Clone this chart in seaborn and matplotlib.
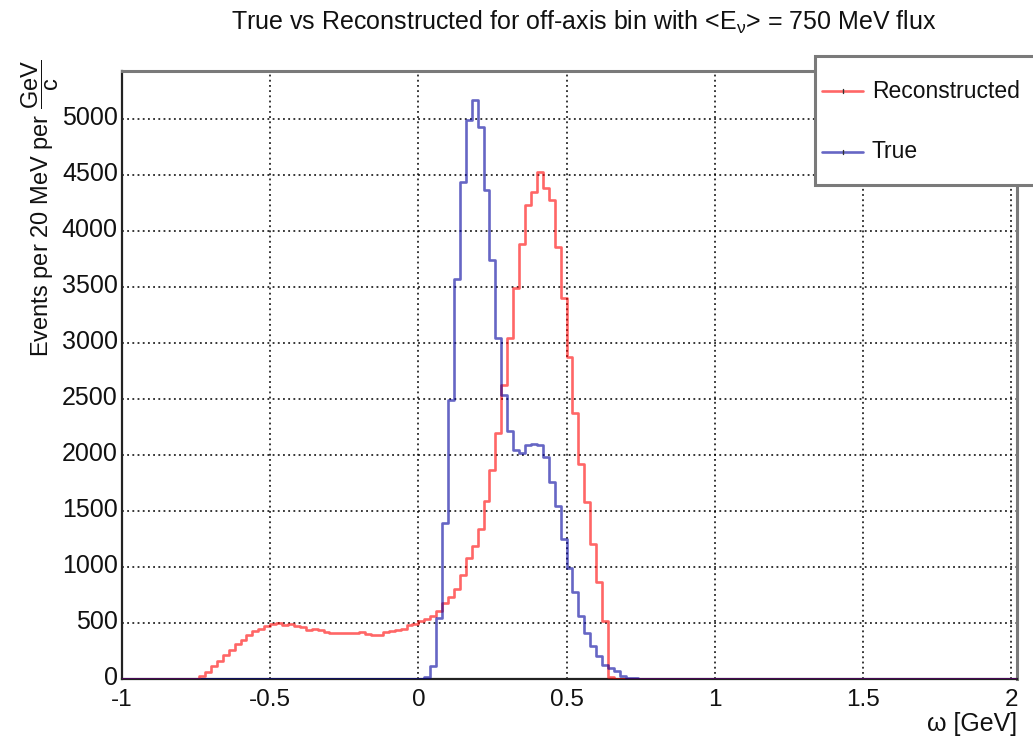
import numpy as np
import pandas as pd
import matplotlib
matplotlib.use("Agg")
import matplotlib.pyplot as plt
import matplotlib.transforms as mtransforms
from matplotlib.lines import Line2D
from matplotlib.patches import Rectangle
import seaborn as sns

# Binning: 20 MeV bins in omega
bin_lo, bin_hi, bin_w = -1.0, 2.02, 0.02
n_bins = 151

# Reconstructed omega, events per bin, first filled bin index 13 (omega = -0.74 GeV)
reco_first_bin = 13
reco_counts = [
    25, 65, 115, 165, 215, 260, 310, 350, 395, 425, 445, 470, 495, 500,
    485, 490, 475, 465, 440, 445, 435, 420, 412, 410, 410, 410, 410, 420,
    405, 392, 395, 420, 430, 435, 448, 478, 495, 515, 540, 565, 610, 680,
    730, 800, 925, 1080, 1185, 1335, 1585, 1868, 2198, 2628, 3049, 3490,
    3880, 4235, 4352, 4531, 4383, 4275, 3859, 3403, 2879, 2373, 1923,
    1584, 1208, 869, 515, 22, 4,
]

# True omega, events per bin, first filled bin index 51 (omega = 0.02 GeV)
true_first_bin = 51
true_counts = [
    15, 120, 545, 1390, 2490, 3570, 4435, 4990, 5170, 4930, 4365, 3743,
    3046, 2540, 2218, 2048, 2015, 2088, 2100, 2087, 1979, 1763, 1547, 1254,
    992, 777, 561, 407, 299, 206, 129, 99, 68, 31, 12, 5,
]

x_ticks = [-1, -0.5, 0, 0.5, 1, 1.5, 2]
x_tick_labels = ["-1", "-0.5", "0", "0.5", "1", "1.5", "2"]
y_ticks = list(range(0, 5001, 500))
y_tick_labels = [str(v) for v in y_ticks]

title = r"True vs Reconstructed for off-axis bin with <E$_{\mathrm{\nu}}$> = 750 MeV flux"
y_title = r"Events per 20 MeV per $\dfrac{\mathrm{GeV}}{\mathrm{c}}$"
x_title = "ω [GeV]"

edges = np.linspace(bin_lo, bin_hi, n_bins + 1)
centers = 0.5 * (edges[:-1] + edges[1:])


def full_hist(first, counts):
    h = np.zeros(n_bins)
    h[first:first + len(counts)] = counts
    return h


reco_hist = full_hist(reco_first_bin, reco_counts)
true_hist = full_hist(true_first_bin, true_counts)

df = pd.concat([
    pd.DataFrame({"omega": centers, "events": reco_hist, "sample": "Reconstructed"}),
    pd.DataFrame({"omega": centers, "events": true_hist, "sample": "True"}),
])

sns.set_theme(style="white")
plt.rcParams["font.family"] = ["Liberation Sans", "DejaVu Sans"]
plt.rcParams["mathtext.fontset"] = "custom"
plt.rcParams["mathtext.rm"] = "Liberation Sans"
plt.rcParams["mathtext.it"] = "Liberation Sans:italic"

W, H = 1033, 737
fig = plt.figure(figsize=(W / 100, H / 100), dpi=100)
fig.patch.set_facecolor("white")

ax_l, ax_r, ax_t, ax_b = 122, 1017, 71, 679
ax = fig.add_axes([ax_l / W, 1 - ax_b / H, (ax_r - ax_l) / W, (ax_b - ax_t) / H])
ax.set_facecolor("white")

reco_rgb = (1.0, 0.0, 0.0)
true_rgb = (0.0, 0.0, 0.62)
line_alpha = 0.6
lw = 1.9

sns.histplot(data=df[df["sample"] == "Reconstructed"], x="omega", weights="events",
             binwidth=bin_w, binrange=(bin_lo, bin_hi), element="step", fill=False,
             color=reco_rgb, alpha=line_alpha, linewidth=lw, ax=ax, zorder=3)
sns.histplot(data=df[df["sample"] == "True"], x="omega", weights="events",
             binwidth=bin_w, binrange=(bin_lo, bin_hi), element="step", fill=False,
             color=true_rgb, alpha=line_alpha, linewidth=lw, ax=ax, zorder=4)
for ln in ax.lines:
    ln.set_alpha(line_alpha)

ax.set_xlim(bin_lo, bin_hi)
ax.set_ylim(0, 1.05 * max(true_counts))

# Dotted grid at the major divisions
for xv in x_ticks[1:]:
    ax.axvline(xv, color="black", lw=1.1, ls=(0, (1.2, 2.2)), zorder=1)
for yv in y_ticks[1:]:
    ax.axhline(yv, color="black", lw=1.1, ls=(0, (1.2, 2.2)), zorder=1)

ax.set_xticks(x_ticks)
ax.set_xticklabels(x_tick_labels)
ax.set_yticks(y_ticks)
ax.set_yticklabels(y_tick_labels)
ax.set_xticks(np.arange(-1, 2.01, 0.1), minor=True)
ax.set_yticks(np.arange(0, 5401, 100), minor=True)

ax.tick_params(axis="x", which="major", direction="in", length=17, width=1.3,
               color="#444444", labelsize=17.5, pad=7, top=False)
ax.tick_params(axis="x", which="minor", direction="in", length=8, width=1.3,
               color="#444444", top=False)
ax.tick_params(axis="y", which="major", direction="in", length=24, width=1.3,
               color="#555555", labelsize=18, pad=3, right=False)
ax.tick_params(axis="y", which="minor", direction="in", length=12, width=1.3,
               color="#555555", right=False)

# Raise the y tick labels slightly above their tick positions
raise_y = mtransforms.ScaledTranslation(0, 3.5 / 100, fig.dpi_scale_trans)
for lab in ax.get_yticklabels():
    lab.set_transform(lab.get_transform() + raise_y)
for lab in ax.get_xticklabels() + ax.get_yticklabels():
    lab.set_color("#111111")

ax.set_xlabel("")
ax.set_ylabel("")

for side in ("left", "bottom"):
    ax.spines[side].set_color("#222222")
    ax.spines[side].set_linewidth(1.6)
for side in ("top", "right"):
    ax.spines[side].set_color("#7a7a7a")
    ax.spines[side].set_linewidth(2.2)

# Titles
fig.text(584 / W, 1 - 22 / H, title, ha="center", va="center", fontsize=18, color="#111111")
fig.text(40 / W, 1 - 60 / H, y_title, ha="center", va="top", rotation=90,
         fontsize=17, color="#111111")
fig.text(ax_r / W, 1 / H, x_title, ha="right", va="bottom", fontsize=18, color="#111111")

# Legend box
box = Rectangle((815 / W, 1 - 185 / H), (1045 - 815) / W, (185 - 56) / H,
                transform=fig.transFigure, facecolor="white", edgecolor="#7a7a7a",
                linewidth=2.2, zorder=10)
fig.add_artist(box)
for label, col, yp in (("Reconstructed", reco_rgb, 91), ("True", true_rgb, 152)):
    yf = 1 - yp / H
    fig.add_artist(Line2D([822 / W, 863 / W], [yf, yf], transform=fig.transFigure,
                          color=col, alpha=line_alpha, lw=lw, zorder=11))
    fig.add_artist(Line2D([842.5 / W, 842.5 / W], [yf - 2 / H, yf + 2 / H],
                          transform=fig.transFigure, color="#333333", lw=1.0, zorder=12))
    fig.text(872 / W, yf, label, ha="left", va="center", fontsize=16.5,
             color="#111111", zorder=12)

fig.savefig("out.png", dpi=100, facecolor="white")
